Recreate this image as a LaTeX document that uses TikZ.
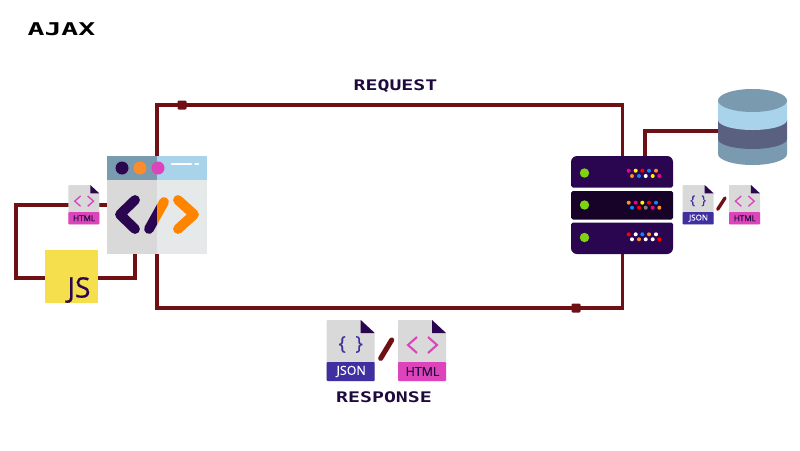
\documentclass[tikz,border=0pt]{standalone}
\usepackage{fontspec}
\setmainfont{Open Sans}
\newfontfamily\labelfont[FakeBold=0.35]{Open Sans}
\newfontfamily\pixelfont[FakeStretch=1.36]{DejaVu Sans Mono}
\newfontfamily\pixelwide[FakeStretch=1.6]{DejaVu Sans Mono}
\usetikzlibrary{backgrounds}

\definecolor{wirered}{HTML}{6E1014}
\definecolor{darkpurple}{HTML}{2B0650}
\definecolor{rackdark}{HTML}{170328}
\definecolor{inkpurple}{HTML}{1E0A3C}
\definecolor{headgray}{HTML}{7A9BAF}
\definecolor{headblue}{HTML}{A8D3EA}
\definecolor{bodygray}{HTML}{D9D9D9}
\definecolor{bodylight}{HTML}{E5E9EA}
\definecolor{codeorange}{HTML}{FF8500}
\definecolor{dotorange}{HTML}{FF8C2A}
\definecolor{htmlpink}{HTML}{DD44BB}
\definecolor{jsonblue}{HTML}{3F2FA0}
\definecolor{jsyellow}{HTML}{F5DF4D}
\definecolor{ledgreen}{HTML}{7ED50F}
\definecolor{dbslate}{HTML}{5A6080}
\definecolor{ledblue}{HTML}{0A84FF}

% Un archivo: nombre, x, y, escala, color, color del texto, etiqueta, simbolo
\newcommand{\docfile}[8]{
    \begin{scope}[shift={(#2,-#3)}, scale=#4]
        \pgfmathsetmacro{\docfs}{7.1*#4}
        \pgfmathsetmacro{\doclw}{2.1*#4*0.567}
        \fill[bodygray, rounded corners=0.5pt] (0,0) -- (34,0) -- (48,-13) -- (48,-61) -- (0,-61) -- cycle;
        \fill[darkpurple] (34,0) -- (48,-13) -- (34,-13) -- cycle;
        \fill[#5, rounded corners=0.5pt] (0,-42) rectangle (48,-61);
        \node[inner sep=0pt, text=#6, font=\labelfont\fontsize{\docfs pt}{\docfs pt}\selectfont] (#1) at (24.5,-51.5) {#7};
        #8
    \end{scope}
}
\newcommand{\jsonsym}{
    \pgfmathsetmacro{\docbr}{11*\docfs/7.1}
    \node[inner sep=0pt, text=jsonblue, font=\labelfont\fontsize{\docbr pt}{\docbr pt}\selectfont] at (24,-24.5) {\{\hspace{0.5em}\}};
}
\newcommand{\htmlsym}{
    \draw[htmlpink, line width=\doclw pt] (19,-17) -- (10,-25) -- (19,-33);
    \draw[htmlpink, line width=\doclw pt] (30,-17) -- (39,-25) -- (30,-33);
}

\begin{document}
\begin{tikzpicture}[
        x=0.02cm, y=0.02cm,
        wire/.style={draw=wirered, line width=2pt},
        wiremark/.style={fill=wirered, rounded corners=0.6pt, minimum size=0.18cm, inner sep=0pt},
        block/.style={inner sep=0pt, outer sep=0pt},
        rotulo/.style={inner sep=0pt, text=inkpurple},
        codeline/.style={line width=5.6pt, line cap=round, line join=round},
        slashmark/.style={draw=wirered, line cap=round}
    ]
        \useasboundingbox (0,0) rectangle (800,-450);

        % Nodos
        \node[block, minimum width=2cm, minimum height=1.96cm] (browser) at (157,-205) {};
        \node[block, minimum width=2.04cm, minimum height=1.96cm] (server) at (622.7,-205) {};
        \node[block, minimum width=1.38cm, minimum height=1.52cm] (database) at (752.5,-127) {};
        \node[block, fill=jsyellow, minimum size=1.06cm] (jsnote) at (71.5,-276.5) {};
        \node[inner sep=0pt, text=darkpurple, font=\labelfont\fontsize{16}{16}\selectfont] (jslabel) at (79,-290) {JS};

        \coordinate (topleft) at (157,-105);
        \coordinate (topright) at (622.7,-105);
        \coordinate (bottomleft) at (157,-308);
        \coordinate (bottomright) at (622.7,-308);
        \coordinate (loopleft) at (16,-205);
        \coordinate (loopbottom) at (16,-278);
        \coordinate (jsright) at (98,-278);
        \coordinate (loopright) at (135,-278);
        \coordinate (browserfoot) at (135,-254);
        \coordinate (jsleft) at (45,-278);
        \coordinate (serverdb) at (645,-156);
        \coordinate (dbcorner) at (645,-131);
        \coordinate (dbwest) at (718,-131);

        % Cables
        \begin{pgfonlayer}{background}
            \fill[white] (0,0) rectangle (800,-450);
            \draw[wire] (browser.north) -- (topleft) -- (topright) -- (server.north);
            \draw[wire] (browser.south) -- (bottomleft) -- (bottomright) -- (server.south);
            \draw[wire] (browser.west) -- (loopleft) -- (loopbottom) -- (jsleft);
            \draw[wire] (jsright) -- (loopright) -- (browserfoot);
            \draw[wire] (serverdb) -- (dbcorner) -- (dbwest);
        \end{pgfonlayer}
        \node[wiremark] (requestmark) at (182,-105) {};
        \node[wiremark] (responsemark) at (576,-308) {};

        % Navegador
        \fill[bodylight] (157,-180) rectangle (207,-254);
        \fill[bodygray] (107,-180) rectangle (157,-254);
        \fill[headgray] (107,-156) rectangle (157,-180);
        \fill[headblue] (157,-156) rectangle (207,-180);
        \fill[darkpurple] (122,-168) circle (6.5);
        \fill[dotorange] (140,-168) circle (6.5);
        \fill[htmlpink] (158,-168) circle (6.5);
        \draw[white, line width=1.7pt, line cap=round] (172,-164) -- (191,-164);
        \draw[white, line width=1.7pt, line cap=round] (195.5,-164) -- (198,-164);
        \draw[codeline, darkpurple] (135,-200) -- (120,-214.5) -- (135,-229);
        \draw[codeline, codeorange] (178,-200) -- (194,-214.5) -- (178,-229);
        \begin{scope}
            \clip (107,-190) rectangle (157,-240);
            \draw[codeline, darkpurple] (164,-202) -- (149,-229);
        \end{scope}
        \begin{scope}
            \clip (157,-190) rectangle (207,-240);
            \draw[codeline, codeorange] (164,-202) -- (149,-229);
        \end{scope}

        % Servidor
        \fill[darkpurple, rounded corners=1pt] (673,-187.5) -- (571,-187.5) [rounded corners=3.4pt] -- (571,-156) -- (673,-156) [rounded corners=1pt] -- cycle;
        \fill[rackdark, rounded corners=1pt] (571,-191) rectangle (673,-219.5);
        \fill[darkpurple, rounded corners=1pt] (673,-222.5) -- (571,-222.5) [rounded corners=3.4pt] -- (571,-254) -- (673,-254) [rounded corners=1pt] -- cycle;
        \foreach \ledy in {173,205,237.5}
            \fill[ledgreen] (584.5,-\ledy) circle (4.7);
        \foreach \dotx/\dotc in {628.7/magenta,635.7/yellow,642.3/red,649/ledblue,656/dotorange}
            \fill[\dotc] (\dotx,-170.7) circle (2);
        \foreach \dotx/\dotc in {632/dotorange,639/ledblue,645.7/white,652.7/yellow,659.3/magenta}
            \fill[\dotc] (\dotx,-176) circle (2);
        \foreach \dotx/\dotc in {628.7/dotorange,635.7/magenta,642.3/yellow,649/red,656/ledblue}
            \fill[\dotc] (\dotx,-202.7) circle (2);
        \foreach \dotx/\dotc in {632/ledblue,639/red,645.7/gray,652.7/magenta,659.3/dotorange}
            \fill[\dotc] (\dotx,-207.7) circle (2);
        \foreach \dotx/\dotc in {628.7/red,635.7/white,642.3/ledblue,649/dotorange,656/white}
            \fill[\dotc] (\dotx,-234.3) circle (2);
        \foreach \dotx/\dotc in {632/white,639/dotorange,645.7/white,652.7/white,659.3/red}
            \fill[\dotc] (\dotx,-239.3) circle (2);

        % Base de datos
        \fill[headgray] (718,-140) -- (718,-154) arc[start angle=180, end angle=360, x radius=34.5, y radius=11] -- (787,-140) -- cycle;
        \fill[dbslate] (718,-120) -- (718,-139) arc[start angle=180, end angle=360, x radius=34.5, y radius=10] -- (787,-120) -- cycle;
        \fill[headblue] (718,-100) -- (718,-120) arc[start angle=180, end angle=360, x radius=34.5, y radius=10] -- (787,-100) -- cycle;
        \fill[headgray] (752.5,-100.5) ellipse [x radius=34.5, y radius=11.5];

        % Archivos
        \docfile{htmlleft}{68.3}{185}{0.646}{htmlpink}{inkpurple}{HTML}{\htmlsym}
        \docfile{jsonright}{682.7}{185}{0.646}{jsonblue}{white}{JSON}{\jsonsym}
        \docfile{htmlright}{729}{185}{0.646}{htmlpink}{inkpurple}{HTML}{\htmlsym}
        \docfile{jsonbottom}{326.7}{320}{1}{jsonblue}{white}{JSON}{\jsonsym}
        \docfile{htmlbottom}{398}{320}{1}{htmlpink}{inkpurple}{HTML}{\htmlsym}
        \draw[slashmark, line width=1.9pt] (725,-198) -- (717.7,-209.3);
        \draw[slashmark, line width=2.9pt] (391.7,-340) -- (380.7,-358.3);

        % Rotulos
        \node[rotulo, text=black, font=\pixelwide\bfseries\fontsize{10}{10}\selectfont] (title) at (61.5,-29) {AJAX};
        \node[rotulo, font=\pixelfont\bfseries\fontsize{8.3}{8.3}\selectfont] (request) at (395.5,-86) {REQUEST};
        \node[rotulo, font=\pixelfont\bfseries\fontsize{8.3}{8.3}\selectfont] (response) at (384,-397) {RESPONSE};
    \end{tikzpicture}
\end{document}
